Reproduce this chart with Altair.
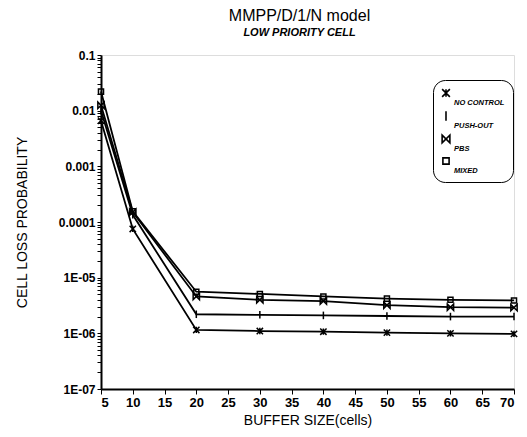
import altair as alt
import pandas as pd

buffer_size = [5, 10, 20, 30, 40, 50, 60, 70]
no_control = [0.0066, 7.5e-5, 1.15e-6, 1.1e-6, 1.07e-6, 1.03e-6, 1.0e-6, 0.98e-6]
push_out = [0.0100, 1.35e-4, 2.2e-6, 2.15e-6, 2.1e-6, 2.05e-6, 2.0e-6, 2.0e-6]
pbs = [0.0125, 1.5e-4, 4.6e-6, 4.0e-6, 3.8e-6, 3.2e-6, 2.95e-6, 2.9e-6]
mixed = [0.022, 1.55e-4, 5.6e-6, 5.1e-6, 4.6e-6, 4.2e-6, 4.0e-6, 3.9e-6]

series_names = ["NO CONTROL", "PUSH-OUT", "PBS", "MIXED"]
series_values = [no_control, push_out, pbs, mixed]

x_ticks = [5, 10, 15, 20, 25, 30, 35, 40, 45, 50, 55, 60, 65, 70]
y_decades = [1e-7, 1e-6, 1e-5, 1e-4, 1e-3, 1e-2, 1e-1]
y_labels = ["1E-07", "1E-06", "1E-05", "0.0001", "0.001", "0.01", "0.1"]

rows = []
for name, vals in zip(series_names, series_values):
    for x, v in zip(buffer_size, vals):
        rows.append({"buffer": x, "prob": v, "series": name})
df = pd.DataFrame(rows)

y_minor = []
for d in y_decades[:-1]:
    for m in range(1, 10):
        y_minor.append(m * d)
y_minor.append(y_decades[-1])

label_expr = "''"
for v, lab in zip(y_decades, y_labels):
    label_expr = f"abs(datum.value - {v!r}) < {v * 1e-6!r} ? '{lab}' : ({label_expr})"

shape_range = [
    "M-1,-1L1,1M-1,1L1,-1M0,-1L0,1",
    "M0,-1.2L0,1.2",
    "M-1,-1L1,1L1,-1L-1,1Z",
    "M-0.8,-0.8L0.8,-0.8L0.8,0.8L-0.8,0.8Z",
]

xenc = alt.X(
    "buffer:Q",
    scale=alt.Scale(domain=[5, 70], nice=False, zero=False),
    axis=alt.Axis(
        values=x_ticks, title="BUFFER SIZE(cells)", grid=False,
        labelFont="Liberation Sans", labelFontWeight="bold", labelFontSize=13,
        labelColor="black", tickColor="black", tickSize=5, domainColor="black",
        domainWidth=2, titleFont="Liberation Sans", titleFontSize=14,
        titleFontWeight="normal", titleColor="black", titleY=24, labelPadding=2,
    ),
)
yenc = alt.Y(
    "prob:Q",
    scale=alt.Scale(type="log", domain=[1e-7, 0.1], nice=False),
    axis=alt.Axis(
        values=y_minor, labelExpr=label_expr, labelOverlap=False,
        title="CELL LOSS PROBABILITY", grid=False,
        labelFont="Liberation Sans", labelFontWeight="bold", labelFontSize=12,
        labelColor="black", tickColor="black", tickSize=4, domainColor="black",
        domainWidth=2, titleFont="Liberation Sans", titleFontSize=14,
        titleFontWeight="normal", titleColor="black", titleX=-79, titleY=167,
        titleAngle=-90, titleAlign="center", titleBaseline="middle", labelPadding=2,
    ),
)

lines = alt.Chart(df).mark_line(color="black", strokeWidth=1.8).encode(
    x=xenc, y=yenc, detail="series:N"
)
points = alt.Chart(df).mark_point(
    color="black", filled=False, strokeWidth=1.5, size=40, opacity=1
).encode(
    x=xenc, y=yenc,
    shape=alt.Shape(
        "series:N",
        scale=alt.Scale(domain=series_names, range=shape_range),
        legend=alt.Legend(
            title=None, orient="none", legendX=332, legendY=25,
            strokeColor="black", cornerRadius=12,
            fillColor="white", padding=8,
            labelFont="Liberation Sans", labelFontStyle="italic",
            labelFontWeight="bold", labelFontSize=7.5, labelColor="black",
            labelExpr="['', datum.label]",
            symbolStrokeColor="black", symbolStrokeWidth=1.6, symbolSize=60,
            symbolFillColor="white", labelOffset=3,
        ),
    ),
)

chart = (
    (lines + points)
    .properties(
        width=413, height=334,
        autosize=alt.AutoSizeParams(type="none"),
        padding={"left": 93, "top": 47, "right": 5, "bottom": 40},
        title=alt.TitleParams(
            text="MMPP/D/1/N model", subtitle="LOW PRIORITY CELL",
            font="Liberation Sans", fontSize=16, fontWeight="normal", color="black",
            subtitleFont="Liberation Sans", subtitleFontSize=11,
            subtitleFontStyle="italic", subtitleFontWeight="bold",
            subtitleColor="black", anchor="middle", frame="group",
            offset=11, dx=-8, subtitlePadding=3,
        ),
    )
    .configure_view(stroke="black", strokeWidth=1.5)
    .configure_legend(strokeWidth=1.5)
    .configure(background="white")
)

chart.save("out.html", embed_options={"renderer": "svg", "actions": False})
